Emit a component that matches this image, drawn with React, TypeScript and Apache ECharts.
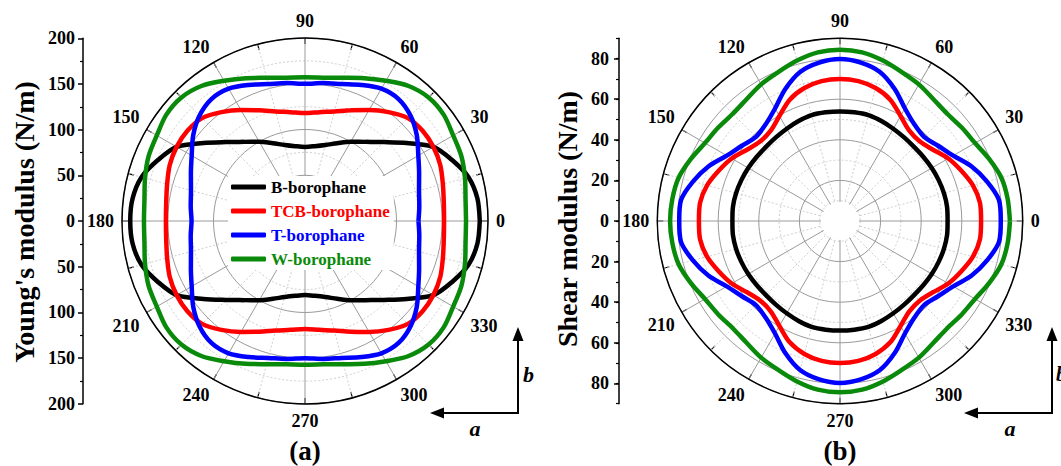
import React, { useEffect, useRef } from "react";
import * as echarts from "echarts";

const FONT = "'Liberation Serif', 'Times New Roman', serif";

const seriesNames = ["B-borophane", "TCB-borophane", "T-borophane", "W-borophane"];
const seriesColors = ["#000000", "#ff0000", "#0000ff", "#0a8a0a"];

const angles = [0, 7.5, 15, 22.5, 30, 37.5, 45, 52.5, 60, 67.5, 75, 82.5, 90, 97.5, 105, 112.5, 120, 127.5, 135, 142.5, 150, 157.5, 165, 172.5, 180, 187.5, 195, 202.5, 210, 217.5, 225, 232.5, 240, 247.5, 255, 262.5, 270, 277.5, 285, 292.5, 300, 307.5, 315, 322.5, 330, 337.5, 345, 352.5, 360];

// Young's modulus (N/m)
const youngB = [191, 190, 185, 174, 162, 140, 122, 109, 100, 92, 86, 82.5, 81, 82.5, 86, 92, 100, 109, 122, 140, 162, 174, 185, 190, 191, 190, 185, 174, 162, 140, 122, 109, 100, 92, 86, 82.5, 81, 82.5, 86, 92, 100, 109, 122, 140, 162, 174, 185, 190, 191];
const youngTCB = [152, 153, 156, 160, 162, 162, 159, 150, 140, 131, 124, 120, 118, 120, 124, 131, 140, 150, 159, 162, 162, 160, 156, 153, 152, 153, 156, 160, 162, 162, 159, 150, 140, 131, 124, 120, 118, 120, 124, 131, 140, 150, 159, 162, 162, 160, 156, 153, 152];
const youngT = [124, 126, 129, 135, 143, 154, 163, 168, 167, 161, 155, 152, 150, 152, 155, 161, 167, 168, 163, 154, 143, 135, 129, 126, 124, 126, 129, 135, 143, 154, 163, 168, 167, 161, 155, 152, 150, 152, 155, 161, 167, 168, 163, 154, 143, 135, 129, 126, 124];
const youngW = [176, 177, 181, 185, 187, 191, 191, 186, 177, 169, 162, 158, 157, 158, 162, 169, 177, 186, 191, 191, 187, 185, 181, 177, 176, 177, 181, 185, 187, 191, 191, 186, 177, 169, 162, 158, 157, 158, 162, 169, 177, 186, 191, 191, 187, 185, 181, 177, 176];

// Shear modulus (N/m)
const shearB = [53, 53.2, 53, 52.6, 52.2, 51.8, 51.6, 51.9, 52.5, 53.3, 54, 54, 54, 54, 54, 53.3, 52.5, 51.9, 51.6, 51.8, 52.2, 52.6, 53, 53.2, 53, 53.2, 53, 52.6, 52.2, 51.8, 51.6, 51.9, 52.5, 53.3, 54, 54, 54, 54, 54, 53.3, 52.5, 51.9, 51.6, 51.8, 52.2, 52.6, 53, 53.2, 53];
const shearTCB = [69.5, 69.5, 67.8, 64.7, 61.6, 57.7, 55.5, 56.1, 59.7, 64.7, 67.8, 69.5, 70, 69.5, 67.8, 64.7, 59.7, 56.1, 55.5, 57.7, 61.6, 64.7, 67.8, 69.5, 69.5, 69.5, 67.8, 64.7, 61.6, 57.7, 55.5, 56.1, 59.7, 64.7, 67.8, 69.5, 70, 69.5, 67.8, 64.7, 59.7, 56.1, 55.5, 57.7, 61.6, 64.7, 67.8, 69.5, 69.5];
const shearT = [79.2, 79, 75, 70.2, 64.4, 60.9, 58.6, 60.1, 64, 70.4, 76, 78.7, 79.8, 78.7, 76, 70.4, 64, 60.1, 58.6, 60.9, 64.4, 70.2, 75, 79, 79.2, 79, 75, 70.2, 64.4, 60.9, 58.6, 60.1, 64, 70.4, 76, 78.7, 79.8, 78.7, 76, 70.4, 64, 60.1, 58.6, 60.9, 64.4, 70.2, 75, 79, 79.2];
const shearW = [83.7, 83.3, 82.3, 79.6, 76.8, 75.6, 74.7, 75.6, 77.7, 79.4, 81.8, 83.8, 84.4, 83.8, 81.8, 79.4, 77.7, 75.6, 74.7, 75.6, 76.8, 79.6, 82.3, 83.3, 83.7, 83.3, 82.3, 79.6, 76.8, 75.6, 74.7, 75.6, 77.7, 79.4, 81.8, 83.8, 84.4, 83.8, 81.8, 79.4, 77.7, 75.6, 74.7, 75.6, 76.8, 79.6, 82.3, 83.3, 83.7];

const youngSets = [youngB, youngTCB, youngT, youngW];
const shearSets = [shearB, shearTCB, shearT, shearW];

const youngTitle = "Young's modulus (N/m)";
const shearTitle = "Shear modulus (N/m)";

function angleAxis(polarIndex: number) {
  return {
    polarIndex,
    type: "value",
    min: 0,
    max: 360,
    interval: 30,
    startAngle: 0,
    clockwise: false,
    axisLine: { show: true, lineStyle: { color: "#000", width: 1.5 } },
    axisTick: { show: true, inside: true, length: 6, lineStyle: { color: "#000", width: 1.2 } },
    minorTick: { show: true, splitNumber: 2, length: 6, lineStyle: { color: "#000", width: 1.2 } },
    axisLabel: {
      show: true,
      margin: 8,
      color: "#000",
      fontFamily: FONT,
      fontWeight: "bold",
      fontSize: 18,
      formatter: (v: number) => (v === 360 ? "" : String(v)),
    },
    splitLine: { show: true, lineStyle: { color: "#9a9a9a", width: 1 } },
    minorSplitLine: { show: true, lineStyle: { color: "#cfcfcf", width: 1, type: [2, 2] } },
  };
}

function radiusAxis(polarIndex: number, max: number, interval: number) {
  return {
    polarIndex,
    type: "value",
    min: 0,
    max,
    interval,
    axisLine: { show: false },
    axisTick: { show: false },
    axisLabel: { show: false },
    splitLine: { show: true, lineStyle: { color: "#9a9a9a", width: 1 } },
    minorTick: { show: false, splitNumber: 2 },
    minorSplitLine: { show: true, lineStyle: { color: "#cfcfcf", width: 1, type: [2, 2] } },
  };
}

const labelStyle = { color: "#000", fontFamily: FONT, fontWeight: "bold", fontSize: 18 };

export default function App() {
  const ref = useRef<HTMLDivElement>(null);

  useEffect(() => {
    if (!ref.current) return;
    const chart = echarts.init(ref.current, undefined, { renderer: "svg" });

    const series: any[] = [];
    youngSets.forEach((vals, i) => {
      series.push({
        name: seriesNames[i],
        type: "line",
        coordinateSystem: "polar",
        polarIndex: 0,
        smooth: 0.3,
        showSymbol: false,
        z: 3,
        itemStyle: { color: seriesColors[i] },
        lineStyle: { color: seriesColors[i], width: 4.5 },
        data: vals.map((v, k) => [v, angles[k]]),
      });
    });
    shearSets.forEach((vals, i) => {
      series.push({
        name: seriesNames[i],
        type: "line",
        coordinateSystem: "polar",
        polarIndex: 1,
        smooth: 0.3,
        showSymbol: false,
        z: 3,
        itemStyle: { color: seriesColors[i] },
        lineStyle: { color: seriesColors[i], width: 4.5 },
        data: vals.map((v, k) => [v, angles[k]]),
      });
    });

    const option: any = {
      animation: false,
      backgroundColor: "#ffffff",
      polar: [
        { center: [305, 221], radius: 183 },
        { center: [840, 221], radius: 182.7 },
      ],
      angleAxis: [angleAxis(0), angleAxis(1)],
      radiusAxis: [radiusAxis(0, 200, 50), radiusAxis(1, 90, 20)],
      grid: [
        { left: 83, top: 38.3, width: 10, height: 365.4 },
        { left: 619, top: 38.3, width: 10, height: 365.4 },
        { left: 619, top: 58.6, width: 10, height: 324.8 },
      ],
      xAxis: [
        { gridIndex: 0, type: "value", show: false },
        { gridIndex: 1, type: "value", show: false },
        { gridIndex: 2, type: "value", show: false },
      ],
      yAxis: [
        {
          gridIndex: 0,
          type: "value",
          min: -200,
          max: 200,
          interval: 50,
          axisLine: { show: true, lineStyle: { color: "#000", width: 1.5 } },
          axisTick: { show: true, length: 5, lineStyle: { color: "#000", width: 1.5 } },
          minorTick: { show: true, splitNumber: 2, length: 3, lineStyle: { color: "#000", width: 1.2 } },
          splitLine: { show: false },
          axisLabel: { ...labelStyle, margin: 8, formatter: (v: number) => String(Math.abs(v)) },
        },
        {
          gridIndex: 1,
          type: "value",
          min: -90,
          max: 90,
          interval: 10,
          axisLine: { show: true, lineStyle: { color: "#000", width: 1.5 } },
          axisTick: { show: true, length: 3, lineStyle: { color: "#000", width: 1.2 } },
          splitLine: { show: false },
          axisLabel: {
            ...labelStyle,
            margin: 10,
            formatter: (v: number) => (Math.abs(v) % 20 === 0 ? String(Math.abs(v)) : ""),
          },
        },
        {
          gridIndex: 2,
          type: "value",
          min: -80,
          max: 80,
          interval: 20,
          axisLine: { show: false },
          axisTick: { show: true, length: 5, lineStyle: { color: "#000", width: 1.5 } },
          splitLine: { show: false },
          axisLabel: { show: false },
        },
      ],
      legend: {
        orient: "vertical",
        left: 228,
        top: 176,
        itemWidth: 35,
        itemHeight: 5,
        itemGap: 6,
        icon: "roundRect",
        selectedMode: false,
        backgroundColor: "#ffffff",
        padding: [2, 4, 2, 3],
        textStyle: { fontFamily: FONT, fontWeight: "bold", fontSize: 17, lineHeight: 18 },
        data: seriesNames.map((n, i) => ({ name: n, textStyle: { color: seriesColors[i] } })),
      },
      graphic: [
        { type: "circle", z: 1, shape: { cx: 840, cy: 221, r: 19 }, style: { fill: "#ffffff" } },
        {
          type: "text", x: 24, y: 222, rotation: Math.PI / 2,
          style: { text: youngTitle, font: `bold 28px ${FONT}`, fill: "#000", textAlign: "center", textVerticalAlign: "middle" },
        },
        {
          type: "text", x: 567, y: 219, rotation: Math.PI / 2,
          style: { text: shearTitle, font: `bold 28px ${FONT}`, fill: "#000", textAlign: "center", textVerticalAlign: "middle" },
        },
        { type: "text", x: 305, y: 451, style: { text: "(a)", font: `bold 27px ${FONT}`, fill: "#000", textAlign: "center", textVerticalAlign: "middle" } },
        { type: "text", x: 840, y: 451, style: { text: "(b)", font: `bold 27px ${FONT}`, fill: "#000", textAlign: "center", textVerticalAlign: "middle" } },
        // axis indicator (a)
        { type: "line", shape: { x1: 518, y1: 414, x2: 518, y2: 338 }, style: { stroke: "#000", lineWidth: 2 } },
        { type: "polygon", shape: { points: [[518, 327], [512.5, 341], [523.5, 341]] }, style: { fill: "#000" } },
        { type: "line", shape: { x1: 519, y1: 413, x2: 442, y2: 413 }, style: { stroke: "#000", lineWidth: 2 } },
        { type: "polygon", shape: { points: [[430, 413], [444, 407.5], [444, 418.5]] }, style: { fill: "#000" } },
        { type: "text", x: 523, y: 374, style: { text: "b", font: `italic bold 22px ${FONT}`, fill: "#000", textAlign: "left", textVerticalAlign: "middle" } },
        { type: "text", x: 475, y: 428, style: { text: "a", font: `italic bold 22px ${FONT}`, fill: "#000", textAlign: "center", textVerticalAlign: "middle" } },
        // axis indicator (b)
        { type: "line", shape: { x1: 1052, y1: 414, x2: 1052, y2: 338 }, style: { stroke: "#000", lineWidth: 2 } },
        { type: "polygon", shape: { points: [[1052, 327], [1046.5, 341], [1057.5, 341]] }, style: { fill: "#000" } },
        { type: "line", shape: { x1: 1053, y1: 413, x2: 976, y2: 413 }, style: { stroke: "#000", lineWidth: 2 } },
        { type: "polygon", shape: { points: [[964, 413], [978, 407.5], [978, 418.5]] }, style: { fill: "#000" } },
        { type: "text", x: 1056, y: 374, style: { text: "b", font: `italic bold 20px ${FONT}`, fill: "#000", textAlign: "left", textVerticalAlign: "middle" } },
        { type: "text", x: 1010, y: 428, style: { text: "a", font: `italic bold 22px ${FONT}`, fill: "#000", textAlign: "center", textVerticalAlign: "middle" } },
      ],
      series,
    };

    chart.setOption(option);
    return () => chart.dispose();
  }, []);

  return (
    <div
      ref={ref}
      style={{ position: "absolute", left: 0, top: 0, width: 1061, height: 466, background: "#fff" }}
    />
  );
}
